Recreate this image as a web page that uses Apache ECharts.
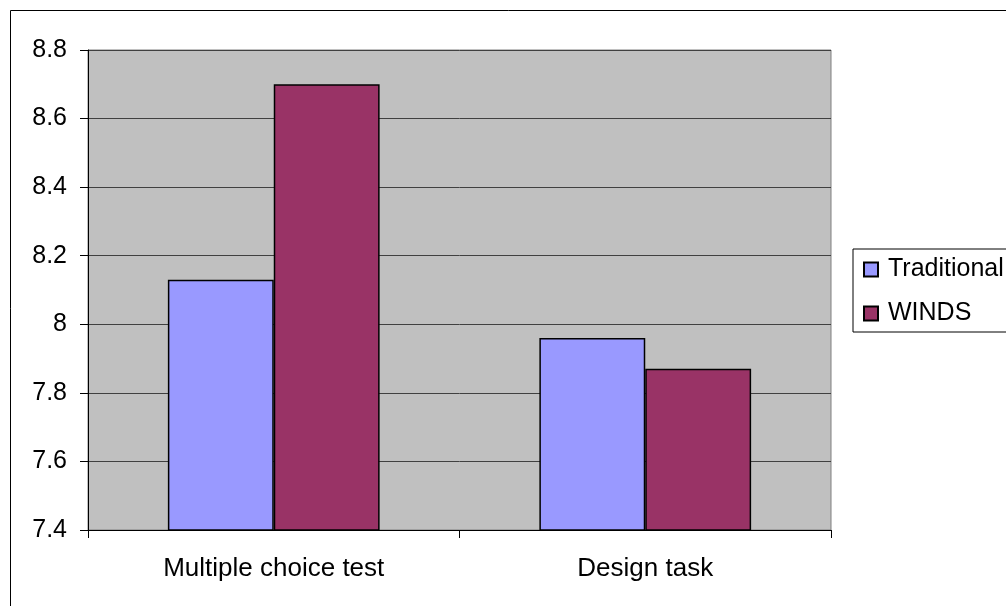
<!DOCTYPE html>
<html>
<head>
<meta charset="utf-8">
<script src="https://cdn.jsdelivr.net/npm/echarts@6/dist/echarts.min.js"></script>
<style>
  html, body { margin: 0; padding: 0; background: #fff; }
  #chart { width: 1006px; height: 606px; }
</style>
</head>
<body>
<div id="chart"></div>
<script>
// Mean scores per assessment, by teaching approach
const categories = ['Multiple choice test', 'Design task'];
const seriesNames = ['Traditional', 'WINDS'];
const traditionalScores = [8.13, 7.96];
const windsScores = [8.70, 7.87];
const yTicks = [7.4, 7.6, 7.8, 8.0, 8.2, 8.4, 8.6, 8.8];

const FONT = "'Liberation Sans', Arial, sans-serif";
const FONT_SIZE = 25;

const chart = echarts.init(document.getElementById('chart'), null, { renderer: 'canvas' });

chart.setOption({
  animation: false,
  backgroundColor: '#ffffff',
  textStyle: { fontFamily: FONT, color: '#000' },
  graphic: [{
    type: 'rect',
    left: 8, top: 8,
    shape: { width: 1200, height: 800 },
    style: { fill: 'none', stroke: '#000', lineWidth: 1 },
    silent: true,
    z: -1
  }],
  grid: {
    left: 88, top: 50, right: 175, bottom: 76,
    show: true,
    backgroundColor: '#C0C0C0',
    borderColor: '#808080',
    borderWidth: 1
  },
  legend: {
    orient: 'vertical',
    left: 853, top: 249,
    padding: [8, 10, 6, 10],
    itemGap: 19,
    itemWidth: 14, itemHeight: 14,
    icon: 'rect',
    borderColor: '#000',
    borderWidth: 1,
    backgroundColor: '#fff',
    textStyle: { fontFamily: FONT, fontSize: FONT_SIZE, color: '#000', padding: [0, 0, 0, 5] },
    data: seriesNames
  },
  xAxis: {
    type: 'category',
    data: categories,
    axisLine: { lineStyle: { color: '#000', width: 1 } },
    axisTick: { show: true, length: 8, alignWithLabel: false, lineStyle: { color: '#000' } },
    axisLabel: { fontFamily: FONT, fontSize: 26, color: '#000', margin: 26, interval: 0 },
    splitLine: { show: false }
  },
  yAxis: {
    type: 'value',
    min: yTicks[0],
    max: yTicks[yTicks.length - 1],
    interval: 0.2,
    axisLine: { show: true, lineStyle: { color: '#000', width: 1 } },
    axisTick: { show: true, length: 8, lineStyle: { color: '#000' } },
    axisLabel: {
      fontFamily: FONT, fontSize: FONT_SIZE, color: '#000', margin: 21,
      formatter: v => String(Math.round(v * 10) / 10)
    },
    splitLine: { show: true, lineStyle: { color: '#404040', width: 1 } }
  },
  series: [
    {
      name: seriesNames[0],
      type: 'bar',
      data: traditionalScores,
      barGap: '0%',
      barCategoryGap: '43%',
      itemStyle: { color: '#9999FF', borderColor: '#000', borderWidth: 1.5 }
    },
    {
      name: seriesNames[1],
      type: 'bar',
      data: windsScores,
      barGap: '0%',
      barCategoryGap: '43%',
      itemStyle: { color: '#993366', borderColor: '#000', borderWidth: 1.5 }
    }
  ]
});
</script>
</body>
</html>
